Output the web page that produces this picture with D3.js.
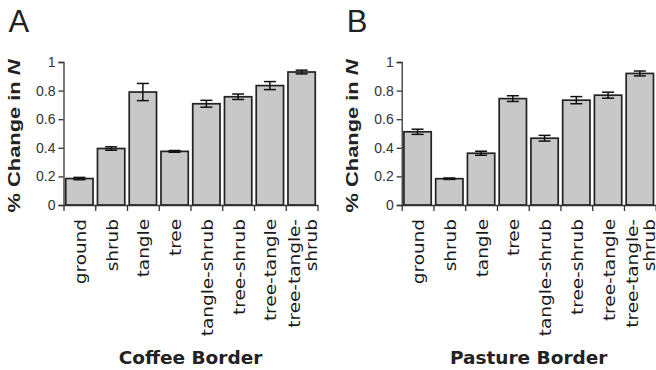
<!DOCTYPE html>
<html>
<head>
<meta charset="utf-8">
<script src="https://cdn.jsdelivr.net/npm/d3@7"></script>
<style>
  body { margin: 0; background: #fff; }
  svg { display: block; }
</style>
</head>
<body>
<div id="chart"></div>
<script>
// categories and values
var categories = ["ground", "shrub", "tangle", "tree", "tangle-shrub", "tree-shrub", "tree-tangle", "tree-tangle-\nshrub"];
var coffeeMean = [0.185, 0.395, 0.79, 0.375, 0.708, 0.757, 0.835, 0.93];
var coffeeErr  = [0.008, 0.012, 0.06, 0.006, 0.024, 0.019, 0.028, 0.013];
var pastureMean = [0.512, 0.184, 0.362, 0.744, 0.467, 0.733, 0.768, 0.92];
var pastureErr  = [0.018, 0.005, 0.014, 0.02, 0.02, 0.025, 0.021, 0.017];
var yTicks = [0, 0.2, 0.4, 0.6, 0.8, 1];

var W = 656, H = 370;
var svg = d3.select("#chart").append("svg")
    .attr("width", W).attr("height", H);

var y = d3.scaleLinear().domain([0, 1]).range([205, 62]);

function panel(letter, x0, x1, means, errs, title) {
    var g = svg.append("g");

    var x = d3.scaleBand().domain(categories).range([x0, x1])
        .paddingInner(0.14).paddingOuter(0.07);

    // panel letter
    g.append("text")
        .attr("x", x0 - 55).attr("y", 32)
        .style("font-family", "Liberation Sans, Arial, sans-serif")
        .style("font-size", "31px").style("fill", "#222")
        .text(letter);

    // bars
    g.selectAll(".bar").data(means).enter().append("rect")
        .attr("class", "bar")
        .attr("x", function(d, i) { return x(categories[i]); })
        .attr("width", x.bandwidth())
        .attr("y", function(d) { return y(d); })
        .attr("height", function(d) { return y(0) - y(d); })
        .style("fill", "#c8c8c8").style("stroke", "#222").style("stroke-width", 1.7);

    // error bars
    var eb = g.selectAll(".err").data(means).enter().append("g").attr("class", "err")
        .style("stroke", "#111").style("stroke-width", 1.5);
    eb.append("line")
        .attr("x1", function(d, i) { return x(categories[i]) + x.bandwidth() / 2; })
        .attr("x2", function(d, i) { return x(categories[i]) + x.bandwidth() / 2; })
        .attr("y1", function(d, i) { return y(d + errs[i]); })
        .attr("y2", function(d, i) { return y(d - errs[i]); });
    [1, -1].forEach(function(s) {
        eb.append("line")
            .attr("x1", function(d, i) { return x(categories[i]) + x.bandwidth() / 2 - 6; })
            .attr("x2", function(d, i) { return x(categories[i]) + x.bandwidth() / 2 + 6; })
            .attr("y1", function(d, i) { return y(d + s * errs[i]); })
            .attr("y2", function(d, i) { return y(d + s * errs[i]); });
    });

    // y axis
    var ya = g.append("g")
        .attr("transform", "translate(" + x0 + ",0)")
        .call(d3.axisLeft(y).tickValues(yTicks).tickSize(5).tickPadding(3)
            .tickFormat(function(d) { return d3.format("~g")(d); }));
    ya.select(".domain").style("stroke", "#333").style("stroke-width", 1.3);
    ya.selectAll(".tick line").style("stroke", "#333").style("stroke-width", 1.3);
    ya.selectAll(".tick text")
        .style("font-family", "Liberation Sans, Arial, sans-serif")
        .style("font-size", "14px").style("fill", "#333");

    // x axis, ticks between categories
    var xb = d3.scaleLinear().domain([0, categories.length]).range([x0, x1]);
    var xa = g.append("g")
        .attr("transform", "translate(0," + y(0) + ")")
        .call(d3.axisBottom(xb).tickValues(d3.range(categories.length + 1))
            .tickSize(6).tickSizeOuter(0).tickFormat(""));
    xa.select(".domain").style("stroke", "#333").style("stroke-width", 1.3);
    xa.selectAll(".tick line").style("stroke", "#333").style("stroke-width", 1.3);

    // category labels (rotated)
    categories.forEach(function(c) {
        var lines = c.split("\n");
        var cx = x(c) + x.bandwidth() / 2;
        var t = g.append("text")
            .attr("transform", "translate(" + (cx + 6.5 - (lines.length - 1) * 8.5) + ",219) rotate(-90) scale(1.23,1)")
            .attr("text-anchor", "end")
            .style("font-family", "DejaVu Sans, Verdana, sans-serif")
            .style("font-size", "15px").style("fill", "#1a1a1a");
        lines.forEach(function(l, k) {
            t.append("tspan").attr("x", 0).attr("dy", k === 0 ? 0 : 17).text(l);
        });
    });

    // y title
    var yt = g.append("text")
        .attr("text-anchor", "middle")
        .style("font-family", "Liberation Sans, Arial, sans-serif")
        .style("font-size", "17px").style("font-weight", "bold").style("fill", "#222");
    yt.append("tspan").text("% Change in ");
    yt.append("tspan").style("font-style", "italic").text("N");
    var len = yt.node().getComputedTextLength();
    yt.attr("transform", "translate(" + (x0 - 44) + ",136) rotate(-90) scale(" + (153 / len) + ",1)");

    // x title
    g.append("text")
        .attr("x", (x0 + x1) / 2).attr("y", 364)
        .attr("text-anchor", "middle")
        .style("font-family", "DejaVu Sans, Verdana, sans-serif")
        .style("font-size", "18.5px").style("font-weight", "bold").style("fill", "#222")
        .text(title);
}

panel("A", 63.5, 317.5, coffeeMean, coffeeErr, "Coffee Border");
panel("B", 401.7, 655.7, pastureMean, pastureErr, "Pasture Border");
</script>
</body>
</html>
